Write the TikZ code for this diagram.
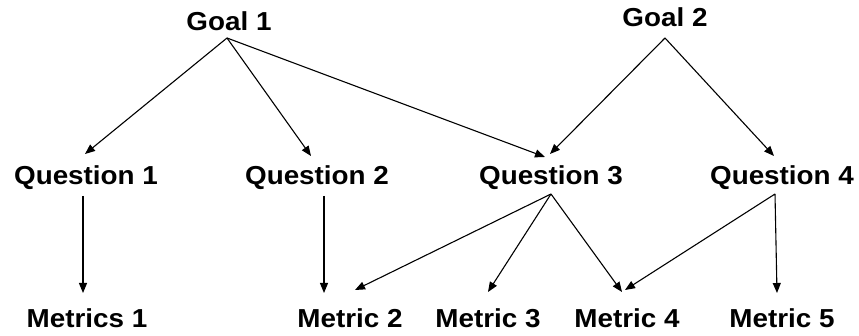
\documentclass[tikz,border=0pt]{standalone}
\usepackage{fontspec}
\setmainfont{Liberation Sans}
\usetikzlibrary{arrows.meta,calc}
\newcommand\sx[1]{\scalebox{1.07}[1]{#1}}
\begin{document}
\begin{tikzpicture}[x=1pt,y=-1pt,
  lbl/.style={font=\fontsize{26}{28}\selectfont\bfseries, inner sep=0pt, anchor=base},
  arr/.style={line width=1.1pt, -{Triangle[length=10pt,width=8pt]}}]
\useasboundingbox[fill=white] (0,0) rectangle (859,336);
% goals
\node[lbl] (g1) at (229,31) {\sx{Goal 1}};
\node[lbl] (g2) at (665,27) {\sx{Goal 2}};
% questions
\node[lbl] (q1) at (86,185) {\sx{Question 1}};
\node[lbl] (q2) at (317,185) {\sx{Question 2}};
\node[lbl] (q3) at (551,185) {\sx{Question 3}};
\node[lbl] (q4) at (782,185) {\sx{Question 4}};
% metrics
\node[lbl] (m1) at (87,328) {\sx{Metrics 1}};
\node[lbl] (m2) at (350,328) {\sx{Metric 2}};
\node[lbl] (m3) at (488,328) {\sx{Metric 3}};
\node[lbl] (m4) at (627,328) {\sx{Metric 4}};
\node[lbl] (m5) at (782,328) {\sx{Metric 5}};
% goal 1 arrows
\draw[arr] ($(g1.base)+(-2,7)$) -- ($(q1.base)+(-1,-31)$);
\draw[arr] ($(g1.base)+(-2,7)$) -- ($(q2.base)+(-6,-29)$);
\draw[arr] ($(g1.base)+(-2,7)$) -- ($(q3.base)+(-6,-28)$);
% goal 2 arrows
\draw[arr] ($(g2.base)+(0,11)$) -- ($(q3.base)+(-1,-31)$);
\draw[arr] ($(g2.base)+(0,11)$) -- ($(q4.base)+(-8,-29)$);
% question arrows
\draw[arr] ($(q1.base)+(-3,11)$) -- ($(m1.base)+(-4,-35)$);
\draw[arr] ($(q2.base)+(7,11)$) -- ($(m2.base)+(-26,-35)$);
\draw[arr] ($(q3.base)+(0,9)$) -- ($(m2.base)+(5,-38)$);
\draw[arr] ($(q3.base)+(0,9)$) -- ($(m3.base)+(0,-36)$);
\draw[arr] ($(q3.base)+(0,9)$) -- ($(m4.base)+(-5,-36)$);
\draw[arr] ($(q4.base)+(-7,9)$) -- ($(m4.base)+(-2,-38)$);
\draw[arr] ($(q4.base)+(-7,9)$) -- ($(m5.base)+(-5,-35)$);
\end{tikzpicture}
\end{document}
